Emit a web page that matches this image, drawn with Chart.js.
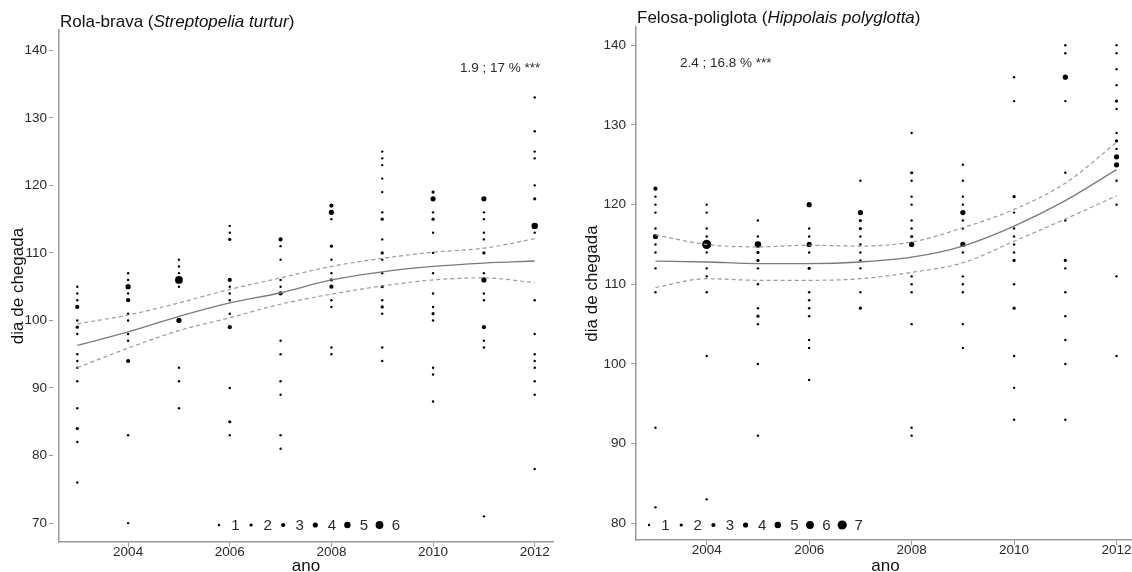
<!DOCTYPE html>
<html><head><meta charset="utf-8">
<script src="https://cdn.jsdelivr.net/npm/chart.js@4/dist/chart.umd.min.js"></script>
<style>
html,body{margin:0;padding:0;background:#fff;overflow:hidden;width:1132px;height:572px;position:relative}
#wrapL{position:absolute;left:0;top:0;width:566px;height:572px}
#wrapR{position:absolute;left:566px;top:0;width:574px;height:572px}
</style></head><body>
<div id="wrapL"><canvas id="cL" width="566" height="572"></canvas></div>
<div id="wrapR"><canvas id="cR" width="574" height="572"></canvas></div>
<script>
// ---- data ----
const years = [2003,2004,2005,2006,2007,2008,2009,2010,2011,2012];
const xTicks = [2004,2006,2008,2010,2012];
const turturYTicks = [70,80,90,100,110,120,130,140];
const polyYTicks = [80,90,100,110,120,130,140];

// [year, arrival day, number of records]
const turturObs = [
 [2003,105,1],[2003,104,1],[2003,103,1],[2003,102,3],[2003,100,1],[2003,99,2],[2003,98,1],[2003,95,1],[2003,94,1],[2003,93,1],[2003,91,1],[2003,87,1],[2003,84,2],[2003,82,1],[2003,76,1],
 [2004,107,1],[2004,106,1],[2004,105,4],[2004,104,1],[2004,103,3],[2004,101,1],[2004,100,1],[2004,98,1],[2004,97,1],[2004,94,3],[2004,83,1],[2004,70,1],
 [2005,109,1],[2005,108,1],[2005,107,1],[2005,106,6],[2005,105,1],[2005,100,4],[2005,93,1],[2005,91,1],[2005,87,1],
 [2006,114,1],[2006,113,1],[2006,112,2],[2006,106,3],[2006,105,1],[2006,104,1],[2006,103,1],[2006,101,1],[2006,99,3],[2006,90,1],[2006,85,2],[2006,83,1],
 [2007,112,3],[2007,111,1],[2007,109,1],[2007,106,1],[2007,105,1],[2007,104,3],[2007,97,1],[2007,95,1],[2007,91,1],[2007,89,1],[2007,83,1],[2007,81,1],
 [2008,117,3],[2008,116,4],[2008,115,1],[2008,111,2],[2008,109,1],[2008,107,1],[2008,106,2],[2008,105,3],[2008,103,1],[2008,102,1],[2008,96,1],[2008,95,1],
 [2009,125,1],[2009,124,1],[2009,123,1],[2009,121,1],[2009,119,1],[2009,116,1],[2009,115,2],[2009,112,1],[2009,110,2],[2009,109,1],[2009,107,1],[2009,105,2],[2009,103,1],[2009,102,2],[2009,101,1],[2009,96,1],[2009,94,1],
 [2010,119,2],[2010,118,4],[2010,116,1],[2010,115,2],[2010,113,1],[2010,110,1],[2010,107,1],[2010,104,1],[2010,102,1],[2010,101,2],[2010,100,1],[2010,93,1],[2010,92,1],[2010,88,1],
 [2011,118,4],[2011,116,1],[2011,115,1],[2011,113,1],[2011,112,1],[2011,110,2],[2011,107,1],[2011,106,4],[2011,104,1],[2011,103,1],[2011,99,3],[2011,97,1],[2011,96,1],[2011,71,1],
 [2012,133,1],[2012,128,1],[2012,125,1],[2012,124,1],[2012,120,1],[2012,118,2],[2012,114,5],[2012,113,1],[2012,103,1],[2012,98,1],[2012,95,1],[2012,94,1],[2012,93,1],[2012,91,1],[2012,89,1],[2012,78,1]
];
const turturFit   = [96.3,98.3,100.6,102.6,104.1,106.0,107.2,108.0,108.5,108.8];
const turturUpper = [99.5,100.8,102.6,104.6,106.3,108.0,109.2,110.1,110.7,112.1];
const turturLower = [93.0,95.9,98.5,100.4,102.4,103.9,105.1,106.0,106.3,105.6];

const polyObs = [
 [2003,122,3],[2003,121,1],[2003,120,1],[2003,119,1],[2003,117,1],[2003,116,4],[2003,115,1],[2003,114,1],[2003,112,1],[2003,109,1],[2003,92,1],[2003,82,1],
 [2004,120,1],[2004,119,1],[2004,117,1],[2004,116,1],[2004,115,7],[2004,114,1],[2004,112,1],[2004,111,1],[2004,109,1],[2004,101,1],[2004,83,1],
 [2005,118,1],[2005,116,1],[2005,115,5],[2005,114,2],[2005,113,2],[2005,112,1],[2005,110,1],[2005,107,1],[2005,106,2],[2005,105,1],[2005,100,1],[2005,91,1],
 [2006,120,4],[2006,117,1],[2006,116,1],[2006,115,4],[2006,114,1],[2006,112,2],[2006,109,1],[2006,108,1],[2006,107,1],[2006,106,1],[2006,103,1],[2006,102,1],[2006,98,1],
 [2007,123,1],[2007,119,4],[2007,118,2],[2007,117,2],[2007,116,1],[2007,115,1],[2007,114,1],[2007,113,1],[2007,112,1],[2007,109,1],[2007,107,2],
 [2008,129,1],[2008,124,2],[2008,123,1],[2008,121,1],[2008,120,1],[2008,118,1],[2008,117,1],[2008,116,2],[2008,115,4],[2008,111,1],[2008,110,1],[2008,109,1],[2008,105,1],[2008,92,1],[2008,91,1],
 [2009,125,1],[2009,123,1],[2009,121,1],[2009,120,1],[2009,119,4],[2009,118,1],[2009,117,1],[2009,115,4],[2009,114,1],[2009,111,1],[2009,110,1],[2009,109,1],[2009,105,1],[2009,102,1],
 [2010,136,1],[2010,133,1],[2010,121,2],[2010,119,1],[2010,117,1],[2010,116,1],[2010,115,1],[2010,114,1],[2010,113,2],[2010,110,1],[2010,107,2],[2010,101,1],[2010,97,1],[2010,93,1],
 [2011,140,1],[2011,139,1],[2011,136,4],[2011,133,1],[2011,124,1],[2011,118,1],[2011,113,2],[2011,112,1],[2011,109,1],[2011,106,1],[2011,103,1],[2011,100,1],[2011,93,1],
 [2012,140,1],[2012,139,1],[2012,137,1],[2012,135,1],[2012,133,2],[2012,132,1],[2012,129,1],[2012,128,2],[2012,127,1],[2012,126,4],[2012,125,4],[2012,123,1],[2012,120,1],[2012,111,1],[2012,101,1]
];
const polyFit   = [112.9,112.8,112.6,112.6,112.8,113.4,114.8,117.3,120.5,124.4];
const polyUpper = [116.2,115.0,114.7,114.9,114.8,115.3,117.1,119.4,122.7,127.8];
const polyLower = [109.6,110.7,110.5,110.5,110.7,111.5,112.7,115.4,118.2,121.1];

const countRadius = [0,1.2,1.6,2.1,2.6,3.2,3.9,4.6];

// ---- drawing ----
const FONT = '"Liberation Sans", Arial, sans-serif';
const AXIS_GREY = '#9a9a9a';
const TEXT = '#2a2a2a';

function textPlugin(p){
  return {
    id:'texts',
    afterDraw(chart){
      const c = chart.ctx, a = chart.chartArea;
      c.save();
      c.fillStyle = '#111'; c.textBaseline = 'alphabetic'; c.textAlign='left';
      let x = p.titleX;
      const parts = [[p.title[0],'normal'],[p.title[1],'italic'],[p.title[2],'normal']];
      for (const [t,st] of parts){
        c.font = st + ' 17px ' + FONT;
        c.fillText(t, x, p.titleY);
        x += c.measureText(t).width;
      }
      c.font = '13.5px ' + FONT; c.fillStyle = TEXT;
      c.fillText(p.note, p.noteX, p.noteY);
      c.save();
      c.translate(p.yTitleX, (a.top + a.bottom)/2);
      c.rotate(-Math.PI/2);
      c.textAlign = 'center'; c.textBaseline = 'middle';
      c.font = '17px ' + FONT; c.fillStyle = '#111';
      c.fillText('dia de chegada', 0, 0);
      c.restore();
      c.textAlign = 'center'; c.font = '17px ' + FONT; c.fillStyle = '#111';
      c.fillText('ano', (a.left + p.xTitleRight)/2, 571);
      c.textAlign = 'center'; c.textBaseline = 'middle';
      c.font = '15px ' + FONT;
      for (let i = 1; i <= p.legendN; i++){
        const cx = p.legendX + (i-1)*p.legendDx;
        c.beginPath(); c.fillStyle = '#000';
        c.arc(cx, p.legendY, countRadius[i], 0, Math.PI*2); c.fill();
        c.fillStyle = TEXT;
        c.fillText(String(i), cx + 16.5, p.legendY + 1);
      }
      c.restore();
    }
  };
}

function makePanel(canvasId, obs, fit, upper, lower, yTicks, cfg){
  const lineDs = (vals, dash, color, w) => ({
    type:'line',
    data: years.map((yr,i)=>({x:yr, y:vals[i]})),
    borderColor: color, borderWidth: w, borderDash: dash,
    pointRadius: 0, fill:false, tension: 0.4, cubicInterpolationMode:'monotone', order: 0
  });
  return new Chart(document.getElementById(canvasId), {
    type:'scatter',
    data:{ datasets:[
      { data: obs.map(o=>({x:o[0], y:o[1], n:o[2]})),
        pointRadius: ctx => countRadius[ctx.raw ? ctx.raw.n : 1],
        pointBackgroundColor:'#000', pointBorderWidth:0, pointHoverRadius:0, order:1 },
      lineDs(fit, [], '#7a7a7a', 1.3),
      lineDs(upper, [4,3], '#9a9a9a', 1.2),
      lineDs(lower, [4,3], '#9a9a9a', 1.2)
    ]},
    options:{
      responsive:false, animation:false, devicePixelRatio:1,
      events:[],
      layout:{ padding:{ top:cfg.top, right:cfg.right, left:0, bottom:0 } },
      plugins:{ legend:{display:false}, tooltip:{enabled:false}, title:{display:false} },
      scales:{
        x:{ type:'linear', min:cfg.xmin, max:cfg.xmax,
          afterBuildTicks: s => { s.ticks = xTicks.map(v=>({value:v})); },
          afterFit: s => { s.height = cfg.xh; },
          ticks:{ font:{family:FONT, size:13.5}, color:TEXT, padding:-3, maxRotation:0, autoSkip:false, callback:v=>String(v) },
          grid:{ display:true, drawOnChartArea:false, drawTicks:true, tickLength:5, tickColor:AXIS_GREY, tickWidth:1 },
          border:{ display:true, color:AXIS_GREY, width:1.5 }
        },
        y:{ type:'linear', min:cfg.ymin, max:cfg.ymax,
          afterBuildTicks: s => { s.ticks = yTicks.map(v=>({value:v})); },
          afterFit: s => { s.width = cfg.yw; },
          ticks:{ font:{family:FONT, size:13.5}, color:TEXT, padding:cfg.ypad, callback:v=>String(v) },
          grid:{ display:true, drawOnChartArea:false, drawTicks:true, tickLength:cfg.ytl, tickBorderDash:cfg.ydash, tickColor:AXIS_GREY, tickWidth:1 },
          border:{ display:true, color:AXIS_GREY, width:1.5 }
        }
      }
    },
    plugins:[textPlugin(cfg)]
  });
}

makePanel('cL', turturObs, turturFit, turturUpper, turturLower, turturYTicks, {
  top:30, right:13, xh:30, yw:59, xmin:2002.64, xmax:2012.36, ymin:67.2, ymax:143.0,
  ypad:2, ytl:10, ydash:[4,6],
  title:['Rola-brava (','Streptopelia turtur',')'], titleX:60, titleY:27,
  note:'1.9 ; 17 % ***', noteX:460, noteY:72,
  yTitleX:18, xTitleRight:553,
  legendN:6, legendX:219, legendDx:32.1, legendY:525
});
makePanel('cR', polyObs, polyFit, polyUpper, polyLower, polyYTicks, {
  top:27, right:5, xh:32, yw:70, xmin:2002.62, xmax:2012.36, ymin:77.9, ymax:142.3,
  ypad:5, ytl:5, ydash:[],
  title:['Felosa-poliglota (','Hippolais polyglotta',')'], titleX:71, titleY:23,
  note:'2.4 ; 16.8 % ***', noteX:114, noteY:67,
  yTitleX:26, xTitleRight:569,
  legendN:7, legendX:83, legendDx:32.2, legendY:525
});
</script>
</body></html>
